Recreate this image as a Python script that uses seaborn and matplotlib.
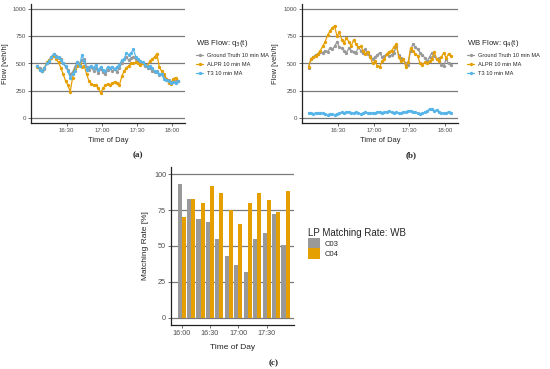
import pandas as pd
import seaborn as sns
import matplotlib.pyplot as plt

# minutes after 16:00, one reading every 2 min from 16:05 to 18:05
minutes = list(range(5, 126, 2))

# panel (a): flow q3(t) [veh/h]
q3_truth = [475, 455, 435, 450, 500, 530, 560, 590, 570, 550, 540, 500, 470, 440, 400, 420,
            470, 510, 490, 530, 540, 470, 440, 470, 430, 460, 410, 450, 420, 400, 440, 460,
            430, 450, 420, 460, 500, 540, 560, 530, 550, 560, 540, 520, 500, 500, 480, 460,
            460, 430, 420, 430, 390, 400, 380, 360, 350, 330, 330, 340, 340]
q3_alpr = [465, 440, 430, 460, 510, 530, 550, 570, 540, 510, 460, 400, 340, 300, 240, 370,
           450, 480, 500, 470, 480, 400, 340, 310, 300, 300, 270, 230, 270, 300, 310, 300,
           320, 330, 320, 300, 380, 430, 460, 480, 500, 500, 510, 500, 490, 500, 490, 480,
           520, 540, 560, 590, 470, 430, 400, 360, 320, 310, 360, 370, 340]
q3_t3 = [480, 440, 430, 460, 500, 520, 560, 590, 560, 560, 530, 500, 480, 430, 370, 400,
         430, 510, 480, 580, 520, 440, 470, 480, 460, 490, 440, 470, 440, 430, 470, 460,
         470, 450, 470, 490, 530, 540, 600, 580, 600, 630, 560, 540, 520, 510, 490, 470,
         480, 460, 430, 420, 400, 400, 360, 350, 340, 320, 330, 320, 340]

# panel (b): flow q4(t) [veh/h]
q4_truth = [460, 540, 560, 580, 590, 610, 600, 620, 610, 640, 630, 660, 700, 650, 640, 620,
            600, 640, 620, 610, 600, 650, 620, 600, 630, 590, 570, 540, 560, 580, 600, 560,
            570, 590, 570, 580, 600, 660, 580, 550, 540, 500, 490, 620, 680, 650, 630, 600,
            580, 550, 520, 560, 600, 570, 540, 550, 490, 480, 540, 500, 490]
q4_alpr = [470, 540, 560, 570, 590, 620, 660, 700, 760, 800, 830, 850, 750, 790, 720, 690,
           740, 700, 660, 720, 680, 650, 660, 620, 590, 610, 560, 500, 520, 480, 470, 520,
           540, 590, 610, 620, 650, 680, 560, 520, 540, 470, 510, 640, 620, 590, 570, 500,
           490, 510, 500, 520, 540, 610, 540, 520, 560, 600, 550, 590, 570]
q4_t3 = [40, 45, 35, 45, 40, 45, 40, 30, 25, 35, 30, 25, 35, 40, 50, 45,
         50, 55, 45, 40, 50, 45, 35, 40, 50, 45, 40, 45, 40, 50, 55, 45,
         50, 55, 60, 50, 45, 50, 40, 45, 50, 55, 60, 65, 55, 50, 40, 35,
         40, 50, 60, 80, 75, 65, 70, 50, 45, 40, 40, 55, 40]

# panel (c): LP matching rate [%] per 10-min slot
slots = ["16:00", "16:10", "16:20", "16:30", "16:40", "16:50",
         "17:00", "17:10", "17:20", "17:30", "17:40", "17:50"]
c03_rate = [93, 83, 69, 67, 55, 43, 37, 32, 55, 59, 72, 51]
c04_rate = [70, 83, 80, 92, 87, 75, 65, 80, 87, 82, 74, 88]

series_names = ["Ground Truth 10 min MA", "ALPR 10 min MA", "T3 10 min MA"]
flow_colors = ["#999999", "#E69F00", "#56B4E9"]
time_ticks = [30, 60, 90, 120]
time_labels = ["16:30", "17:00", "17:30", "18:00"]

sns.set_theme(style="white")
plt.rcParams["font.family"] = ["Liberation Sans", "DejaVu Sans"]

W, H = 550, 369
fig = plt.figure(figsize=(W / 100, H / 100), dpi=100)


def px_axes(left, top, right, bottom):
    return fig.add_axes([left / W, 1 - bottom / H, (right - left) / W, (bottom - top) / H])


def gg_style(ax, tick_fs):
    sns.despine(ax=ax)
    for s in ["left", "bottom"]:
        ax.spines[s].set_color("#222222")
        ax.spines[s].set_linewidth(0.9)
    ax.yaxis.grid(True, color="#7a7a7a", linewidth=0.9)
    ax.xaxis.grid(False)
    ax.set_axisbelow(True)
    ax.tick_params(axis="both", length=2, width=0.5, color="#333333",
                   labelsize=tick_fs, labelcolor="#4D4D4D", pad=1.5, bottom=True, left=True)


def flow_panel(box, truth, alpr, t3, title_sub, legend_x):
    ax = px_axes(*box)
    df = pd.DataFrame({
        "minute": minutes * 3,
        "flow": truth + alpr + t3,
        "series": [series_names[0]] * len(minutes) + [series_names[1]] * len(minutes)
                  + [series_names[2]] * len(minutes),
    })
    sns.lineplot(data=df, x="minute", y="flow", hue="series", hue_order=series_names,
                 palette=flow_colors, marker="o", markersize=2.4, markeredgewidth=0,
                 linewidth=0.9, ax=ax)
    gg_style(ax, 4.4)
    ax.set_xlim(-0.5, 131)
    ax.set_ylim(-50, 1050)
    ax.set_yticks([0, 250, 500, 750, 1000])
    ax.set_xticks(time_ticks)
    ax.set_xticklabels(time_labels)
    ax.set_xlabel("Time of Day", fontsize=5.4)
    ax.set_ylabel("Flow [veh/h]", fontsize=5.4)
    ax.xaxis.set_label_coords(0.5, -0.115)
    ax.yaxis.set_label_coords(-0.145, 0.5)
    handles, labels = ax.get_legend_handles_labels()
    leg = ax.legend(handles, labels, title="WB Flow: q$_{%s}$(t)" % title_sub,
                    loc="upper left", bbox_to_anchor=(legend_x / W, 1 - 38 / H),
                    bbox_transform=fig.transFigure, frameon=False, fontsize=4.1,
                    title_fontsize=5.6, handlelength=1.3, handletextpad=0.6,
                    labelspacing=0.7, borderpad=0, borderaxespad=0)
    leg._legend_box.align = "left"
    return ax


flow_panel((31, 4, 185, 123), q3_truth, q3_alpr, q3_t3, "3", 196)
flow_panel((302, 4, 458, 123), q4_truth, q4_alpr, q4_t3, "4", 467)

# panel (c)
axc = px_axes(171, 167, 294, 325)
dfc = pd.DataFrame({
    "slot": slots * 2,
    "rate": c03_rate + c04_rate,
    "camera": ["C03"] * len(slots) + ["C04"] * len(slots),
})
sns.barplot(data=dfc, x="slot", y="rate", hue="camera", order=slots,
            palette={"C03": "#999999", "C04": "#E69F00"}, saturation=1,
            width=0.86, linewidth=0, edgecolor="none", ax=axc)
gg_style(axc, 5.2)
axc.set_xlim(-1.13, 11.9)
axc.set_ylim(-5, 105)
axc.set_yticks([0, 25, 50, 75, 100])
axc.set_xticks([0, 3, 6, 9])
axc.set_xticklabels(["16:00", "16:30", "17:00", "17:30"])
axc.set_xlabel("Time of Day", fontsize=6)
axc.set_ylabel("Matching Rate [%]", fontsize=6)
axc.xaxis.set_label_coords(0.5, -0.12)
axc.yaxis.set_label_coords(-0.18, 0.5)
handles, labels = axc.get_legend_handles_labels()
leg = axc.legend(handles, labels, title="LP Matching Rate: WB", loc="upper left",
                 bbox_to_anchor=(308 / W, 1 - 228 / H), bbox_transform=fig.transFigure,
                 frameon=False, fontsize=5.5, title_fontsize=7, handlelength=1.6,
                 handleheight=1.7, handletextpad=0.6, labelspacing=0.0,
                 borderpad=0, borderaxespad=0)
leg._legend_box.align = "left"

# sub-figure captions
for x, y, s in [(138, 155, "(a)"), (411, 155, "(b)"), (274, 363, "(c)")]:
    fig.text(x / W, 1 - y / H, s, ha="center", va="center", fontsize=6.5,
             fontweight="bold", family=["Liberation Serif", "DejaVu Serif"])

fig.savefig("out.png", dpi=100)
